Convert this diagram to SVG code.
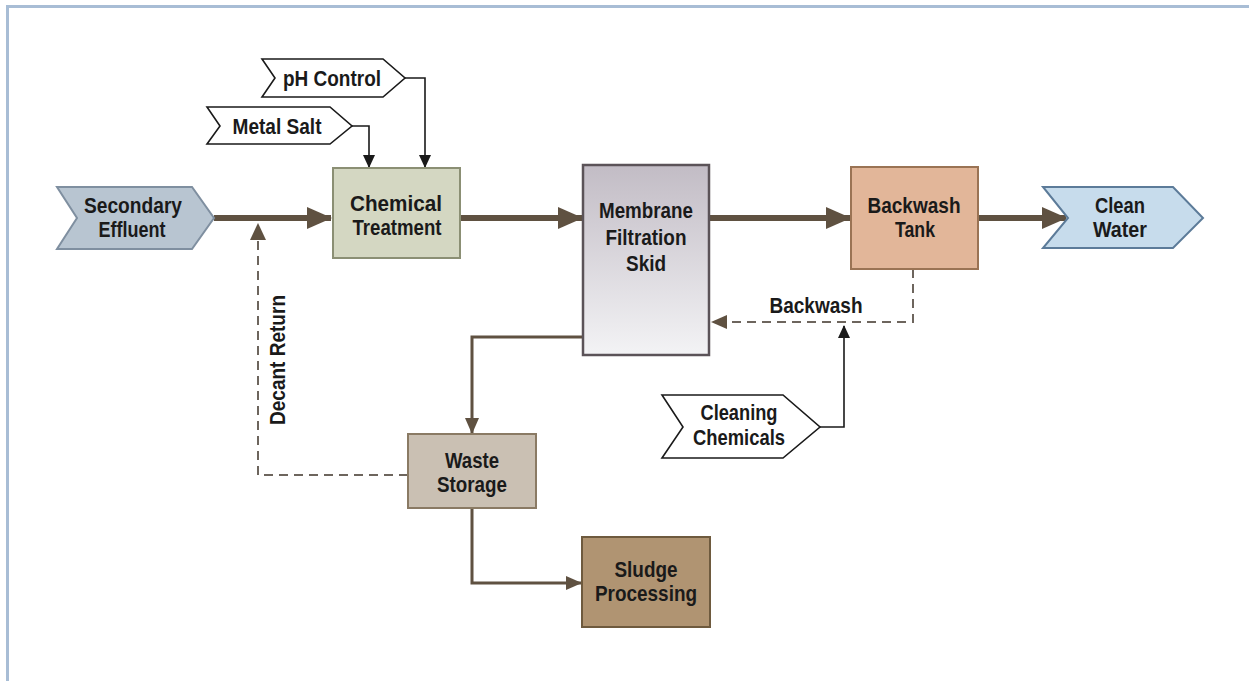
<svg xmlns="http://www.w3.org/2000/svg" width="1249" height="681" viewBox="0 0 1249 681">
<style>
text{font-family:"Liberation Sans",Arial,sans-serif;font-weight:bold;fill:#1a1a1a;text-anchor:middle;font-size:22px}
.main{fill:none;stroke:#5f5141;stroke-width:6}
.thin{fill:none;stroke:#5f5141;stroke-width:3}
.blk{fill:none;stroke:#1a1a1a;stroke-width:1.6}
.dash{fill:none;stroke:#6d655d;stroke-width:2;stroke-dasharray:9 6}
.chev{fill:#ffffff;stroke:#1a1a1a;stroke-width:1.6}
</style>
<defs>
<linearGradient id="gMem" x1="0" y1="0" x2="0" y2="1">
<stop offset="0" stop-color="#c2bcc5"/>
<stop offset="1" stop-color="#f3f3f5"/>
</linearGradient>
<marker id="mMain" markerUnits="userSpaceOnUse" markerWidth="25" markerHeight="22" refX="24" refY="11" orient="auto">
<path d="M0,0 L25,11 L0,22 Z" fill="#5f5141"/>
</marker>
<marker id="mThin" markerUnits="userSpaceOnUse" markerWidth="16" markerHeight="14" refX="15" refY="7" orient="auto">
<path d="M0,0 L16,7 L0,14 Z" fill="#5f5141"/>
</marker>
<marker id="mBlk" markerUnits="userSpaceOnUse" markerWidth="13" markerHeight="12" refX="12" refY="6" orient="auto">
<path d="M0,0 L13,6 L0,12 Z" fill="#1a1a1a"/>
</marker>
</defs>
<rect width="1249" height="681" fill="#ffffff"/>
<path d="M7.5,681 V6.5 H1249" fill="none" stroke="#a8bdd5" stroke-width="3"/>

<g id="connectors">
<path class="main" d="M214,218 H331" marker-end="url(#mMain)"/>
<path class="main" d="M460,218 H582" marker-end="url(#mMain)"/>
<path class="main" d="M709,218 H850" marker-end="url(#mMain)"/>
<path class="main" d="M978,218 H1066" marker-end="url(#mMain)"/>
<path class="blk" d="M352,126 H369 V167" marker-end="url(#mBlk)"/>
<path class="blk" d="M405,78 H425 V167" marker-end="url(#mBlk)"/>
<path class="thin" d="M583,337 H472 V433" marker-end="url(#mThin)"/>
<path class="thin" d="M472,508 V583 H581" marker-end="url(#mThin)"/>
<path class="dash" d="M408,475 H258 V226"/>
<path d="M250,240 L258,223 L266,240 Z" fill="#5f5141"/>
<path class="dash" d="M913,269 V322 H712"/>
<path d="M727,315 L711,322 L727,329 Z" fill="#5f5141"/>
<path class="blk" d="M820,427 H844 V326" marker-end="url(#mBlk)"/>
<text x="816" y="313" textLength="93" lengthAdjust="spacingAndGlyphs">Backwash</text>
<text transform="translate(285,360) rotate(-90)" x="0" y="0" textLength="130" lengthAdjust="spacingAndGlyphs">Decant Return</text>
</g>

<g id="secondary-effluent">
<path d="M57,187 H192 L214,218 L192,249 H57 L77,218 Z" fill="#b8c5d1" stroke="#7f8fa0" stroke-width="2"/>
<text x="133" y="213" textLength="98" lengthAdjust="spacingAndGlyphs">Secondary</text>
<text x="132" y="237" textLength="67" lengthAdjust="spacingAndGlyphs">Effluent</text>
</g>

<g id="metal-salt">
<path class="chev" d="M207,107 H330 L352,126 L330,144 H207 L220,126 Z"/>
<text x="277" y="134" textLength="89" lengthAdjust="spacingAndGlyphs">Metal Salt</text>
</g>

<g id="ph-control">
<path class="chev" d="M262,59 H383 L405,78 L383,97 H262 L275,78 Z"/>
<text x="332" y="86" textLength="98" lengthAdjust="spacingAndGlyphs">pH Control</text>
</g>

<g id="chemical-treatment">
<rect x="333" y="168" width="127" height="90" fill="#d4d7c2" stroke="#8b8f74" stroke-width="2"/>
<text x="396" y="211" textLength="92" lengthAdjust="spacingAndGlyphs">Chemical</text>
<text x="397" y="235" textLength="89" lengthAdjust="spacingAndGlyphs">Treatment</text>
</g>

<g id="membrane-filtration-skid">
<rect x="583" y="165" width="126" height="190" fill="url(#gMem)" stroke="#5b5358" stroke-width="2.5"/>
<text x="646" y="218" textLength="94" lengthAdjust="spacingAndGlyphs">Membrane</text>
<text x="646" y="245" textLength="81" lengthAdjust="spacingAndGlyphs">Filtration</text>
<text x="646" y="271" textLength="40" lengthAdjust="spacingAndGlyphs">Skid</text>
</g>

<g id="backwash-tank">
<rect x="851" y="167" width="127" height="102" fill="#e2b699" stroke="#9a7354" stroke-width="2"/>
<text x="914" y="213" textLength="93" lengthAdjust="spacingAndGlyphs">Backwash</text>
<text x="915" y="237" textLength="40" lengthAdjust="spacingAndGlyphs">Tank</text>
</g>

<g id="clean-water">
<path d="M1043,187 H1173 L1203,218 L1173,248 H1043 L1068,218 Z" fill="#c7dcec" stroke="#5c7b99" stroke-width="2"/>
<text x="1120" y="213" textLength="50" lengthAdjust="spacingAndGlyphs">Clean</text>
<text x="1120" y="237" textLength="54" lengthAdjust="spacingAndGlyphs">Water</text>
</g>

<g id="cleaning-chemicals">
<path class="chev" d="M662,395 H783 L820,427 L783,458 H662 L683,427 Z"/>
<text x="739" y="420" textLength="77" lengthAdjust="spacingAndGlyphs">Cleaning</text>
<text x="739" y="445" textLength="92" lengthAdjust="spacingAndGlyphs">Chemicals</text>
</g>

<g id="waste-storage">
<rect x="408" y="434" width="128" height="74" fill="#cac0b3" stroke="#8a7a64" stroke-width="2"/>
<text x="472" y="468" textLength="54" lengthAdjust="spacingAndGlyphs">Waste</text>
<text x="472" y="492" textLength="70" lengthAdjust="spacingAndGlyphs">Storage</text>
</g>

<g id="sludge-processing">
<rect x="582" y="537" width="128" height="90" fill="#b09472" stroke="#6e5a3e" stroke-width="2"/>
<text x="646" y="577" textLength="63" lengthAdjust="spacingAndGlyphs">Sludge</text>
<text x="646" y="601" textLength="102" lengthAdjust="spacingAndGlyphs">Processing</text>
</g>
</svg>
